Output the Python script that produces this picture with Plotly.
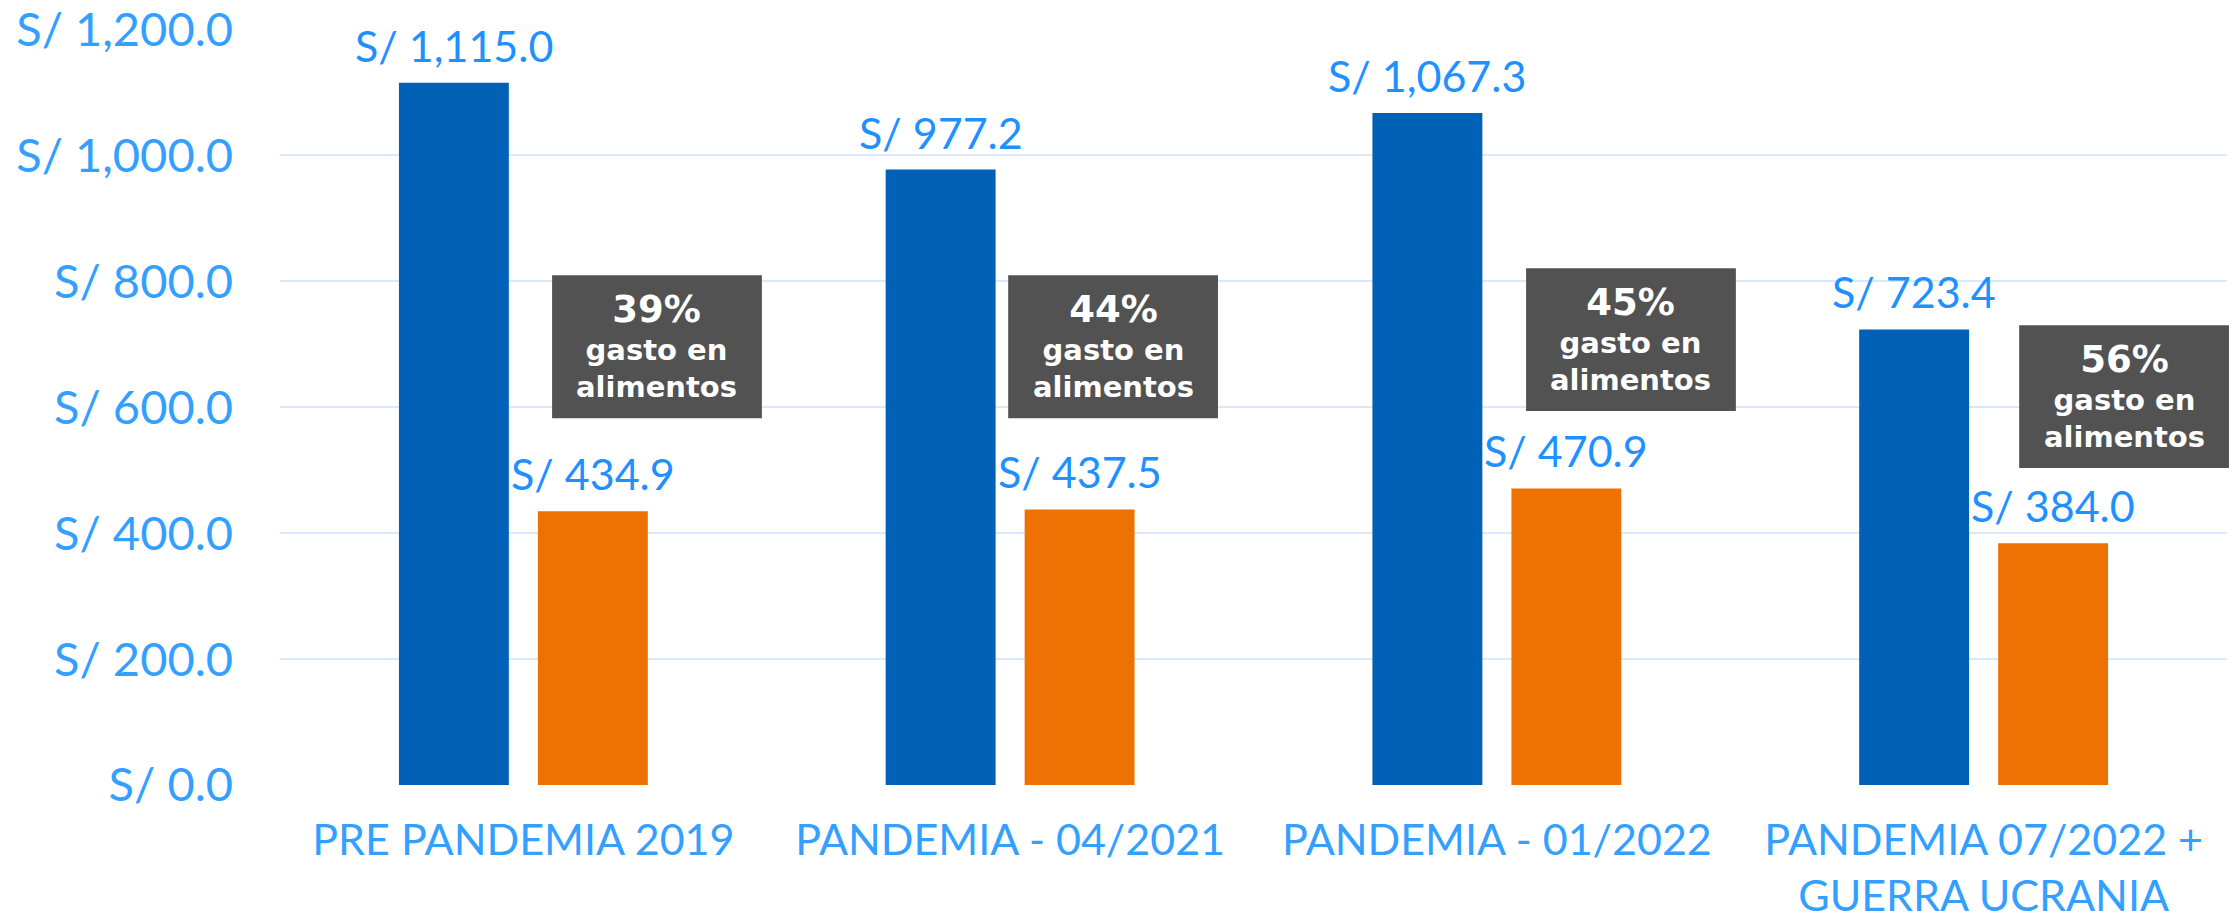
import plotly.graph_objects as go

# ---- data ----
categories = ["PRE PANDEMIA 2019", "PANDEMIA - 04/2021", "PANDEMIA - 01/2022",
              "PANDEMIA 07/2022 +<br>GUERRA UCRANIA"]
ingreso = [1115.0, 977.2, 1067.3, 723.4]
gasto_alimentos = [434.9, 437.5, 470.9, 384.0]
porcentaje = ["39%", "44%", "45%", "56%"]
y_ticks = [0, 200, 400, 600, 800, 1000, 1200]
y_tick_labels = [f"S/ {v:,.1f}" for v in y_ticks]

# ---- styles / layout constants ----
BLUE = "#0061B6"
ORANGE = "#EE7203"
BOX = "#525252"
GRID = "#D8E9FB"
TICK_TXT = "#33A0FF"
VAL_TXT = "#1E90FF"
FONT = "Lato"
BOX_FONT = "DejaVu Sans"

# box placement (offset from category center in category units, y in data units)
box_x0 = [0.059, -0.004, 0.060, 0.073]
box_y = [(582.5, 809.5), (582.5, 809.5), (593.7, 820.6), (503.2, 730.2)]
BOX_W = 0.431

fig = go.Figure()
fig.add_trace(go.Bar(x=categories, y=ingreso, marker_color=BLUE,
                     marker_line_width=0, name="Ingreso"))
fig.add_trace(go.Bar(x=categories, y=gasto_alimentos, marker_color=ORANGE,
                     marker_line_width=0, name="Gasto en alimentos"))

annotations = []
shapes = []
for i in range(len(categories)):
    for vals, shift in ((ingreso, -69.5), (gasto_alimentos, 69.5)):
        annotations.append(dict(
            x=i, y=vals[i], xref="x", yref="y", xshift=shift, yshift=10,
            text=f"S/ {vals[i]:,.1f}", showarrow=False, yanchor="bottom",
            font=dict(family=FONT, size=43, color=VAL_TXT)))
    x0 = i + box_x0[i]
    x1 = x0 + BOX_W
    px0 = (x0 + 0.5) / 4
    px1 = (x1 + 0.5) / 4
    y0, y1 = box_y[i]
    shapes.append(dict(type="rect", xref="paper", yref="y", x0=px0, x1=px1,
                       y0=y0, y1=y1, fillcolor=BOX, line_width=0, layer="above"))
    annotations.append(dict(
        x=(px0 + px1) / 2, y=(y0 + y1) / 2, xref="paper", yref="y",
        yshift=1,
        text=(f"<span style='font-size:37px'><b>{porcentaje[i]}</b></span><br>"
              "<b>gasto en</b><br><b>alimentos</b>"),
        showarrow=False, xanchor="center", yanchor="middle",
        font=dict(family=BOX_FONT, size=29, color="white")))

# page body adds an 8px offset; figure is sized so the plot lands where the reference has it
fig.update_layout(
    width=2232, height=907,
    margin=dict(l=272, r=13, t=21, b=130, autoexpand=False),
    paper_bgcolor="white", plot_bgcolor="white",
    barmode="group", bargap=0.429, bargroupgap=0.209,
    showlegend=False,
    annotations=annotations, shapes=shapes,
    xaxis=dict(type="category", range=[-0.5, 3.5], showgrid=False,
               showline=False, zeroline=False, ticks="", automargin=False,
               tickfont=dict(family=FONT, size=43, color=TICK_TXT),
               ticklabelstandoff=26, ticklabeloverflow="allow"),
    yaxis=dict(range=[0, 1200.5], tickvals=y_ticks, ticktext=y_tick_labels,
               showgrid=True, gridcolor=GRID, gridwidth=2, zeroline=False,
               showline=False, ticks="", automargin=False,
               tickfont=dict(family=FONT, size=47, color=TICK_TXT),
               ticklabelstandoff=46, ticklabeloverflow="allow"),
)

fig.write_html("out.html")
